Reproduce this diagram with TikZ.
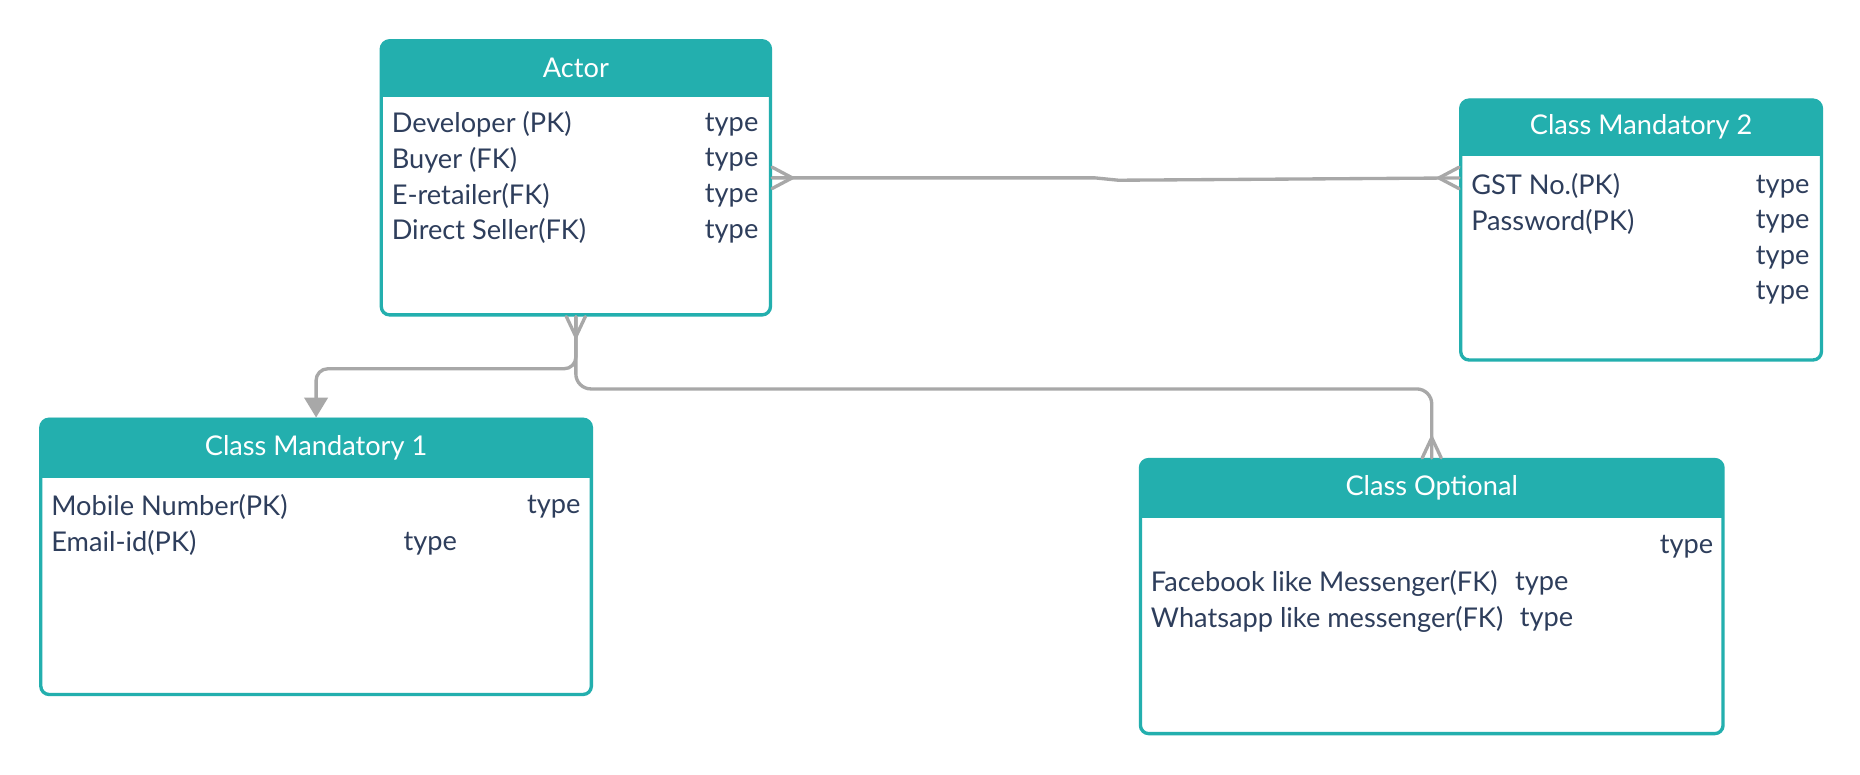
\documentclass[tikz,border=0pt]{standalone}
\usepackage{fontspec}
\setmainfont{Lato}
\usepackage{xcolor}
\definecolor{ErdTeal}{HTML}{23AFAE}
\definecolor{ErdText}{HTML}{2E3E5C}
\definecolor{LinkGray}{HTML}{A8A8A8}
\usetikzlibrary{arrows.meta, positioning, calc}

\begin{document}
\begin{tikzpicture}[
  x=0.025cm, y=-0.025cm,
  % === GRUNDSTILE ===
  % Tabellen-Box
  table/.style={
    draw=ErdTeal,
    fill=white,
    line width=2pt,
    rounded corners=5pt,
    anchor=north west,
    inner sep=0pt
  },
  % Kopfzeile
  header/.style={
    fill=ErdTeal,
    rounded corners=5pt,
    minimum height=1.2cm,
    anchor=north,
    inner sep=0pt
  },
  % Titel in der Kopfzeile
  title/.style={
    text=white,
    inner sep=0pt,
    font=\fontsize{16.3}{19}\selectfont
  },
  % Feldzeilen
  fld/.style={
    text=ErdText,
    anchor=west,
    inner sep=0pt,
    font=\fontsize{16.3}{19}\selectfont
  },
  % Verbindungen
  link/.style={
    draw=LinkGray,
    line width=2pt,
    line cap=round
  }
]

% =============================================================================
% HINTERGRUND
% =============================================================================
\useasboundingbox (0,0) rectangle (1568,652.5);
\fill[white] (0,0) rectangle (1568,652.5);

% =============================================================================
% TABELLEN
% =============================================================================

% --- Actor ---
\node[table, minimum width=8.2cm, minimum height=5.775cm] (actor) at (320,33) {};
\node[header, minimum width=8.2cm] (actorhd) at (actor.north) {};
\fill[ErdTeal] (actorhd.west) rectangle (actorhd.south east);
\node[title] (actorti) at (actorhd) {Actor};
\foreach \i/\txt in {1/Developer (PK), 2/Buyer (FK), 3/E-retailer(FK), 4/Direct Seller(FK)} {
  \node[fld] (actorf\i) at ($(actor.north west)+(10,42+30*\i)$) {\txt};
  \node[fld] (actort\i) at ($(actor.north west)+(274,42+30*\i)$) {type};
}

% --- Class Mandatory 2 ---
\node[table, minimum width=7.6cm, minimum height=5.475cm] (cmtwo) at (1230,83) {};
\node[header, minimum width=7.6cm] (cmtwohd) at (cmtwo.north) {};
\fill[ErdTeal] (cmtwohd.west) rectangle (cmtwohd.south east);
\node[title] (cmtwoti) at (cmtwohd) {Class Mandatory 2};
\node[fld] (cmtwof1) at ($(cmtwo.north west)+(10,74)$) {GST No.(PK)};
\node[fld] (cmtwof2) at ($(cmtwo.north west)+(10,104)$) {Password(PK)};
\foreach \i in {1,...,4} {
  \node[fld] (cmtwot\i) at ($(cmtwo.north west)+(250,44+30*\i)$) {type};
}

% --- Class Mandatory 1 ---
\node[table, minimum width=11.6cm, minimum height=5.8cm] (cmone) at (33,352) {};
\node[header, minimum width=11.6cm, minimum height=1.25cm] (cmonehd) at (cmone.north) {};
\fill[ErdTeal] (cmonehd.west) rectangle (cmonehd.south east);
\node[title] (cmoneti) at (cmonehd) {Class Mandatory 1};
\node[fld] (cmonef1) at ($(cmone.north west)+(10,75)$) {Mobile Number(PK)};
\node[fld] (cmonet1) at ($(cmone.north west)+(411,75)$) {type};
\node[fld] (cmonef2) at ($(cmone.north west)+(10,106)$) {Email-id(PK)};
\node[fld] (cmonet2) at ($(cmone.north west)+(307,106)$) {type};

% --- Class Optional ---
\node[table, minimum width=12.275cm, minimum height=5.775cm] (copt) at (960,386) {};
\node[header, minimum width=12.275cm, minimum height=1.25cm] (copthd) at (copt.north) {};
\fill[ErdTeal] (copthd.west) rectangle (copthd.south east);
\node[title] (coptti) at (copthd) {Class Optional};
\node[fld] (coptt0) at ($(copt.north west)+(439,75)$) {type};
\node[fld] (coptf1) at ($(copt.north west)+(10,106)$) {Facebook like Messenger(FK)};
\node[fld] (coptt1) at ($(copt.north west)+(317,106)$) {type};
\node[fld] (coptf2) at ($(copt.north west)+(10,136)$) {Whatsapp like messenger(FK)};
\node[fld] (coptt2) at ($(copt.north west)+(321,136)$) {type};

% =============================================================================
% VERBINDUNGEN
% =============================================================================
\coordinate (cmtwoin) at ($(cmtwo.north west)+(0,67)$);

% Actor -- Class Mandatory 2
\draw[link] (actor.east) -- ++(272,0) -- ++(20,2) -- (cmtwoin);
\draw[link] ($(actor.east)+(0,-9)$) -- ($(actor.east)+(17,0)$) -- ($(actor.east)+(0,9)$);
\draw[link] ($(cmtwoin)+(0,-9)$) -- ($(cmtwoin)+(-17,0)$) -- ($(cmtwoin)+(0,9)$);

% Actor -- Class Mandatory 1
\draw[link, rounded corners=7pt, -{Triangle[width=14pt, length=12pt]}]
      (actor.south) -- ++(0,44) -| (cmone.north);

% Actor -- Class Optional
\draw[link, rounded corners=9pt] (actor.south) -- ++(0,61) -| (copt.north);
\draw[link] ($(actor.south)+(-8,0)$) -- ($(actor.south)+(0,17)$) -- ($(actor.south)+(8,0)$);
\draw[link] ($(copt.north)+(-8,0)$) -- ($(copt.north)+(0,-17)$) -- ($(copt.north)+(8,0)$);

\end{tikzpicture}
\end{document}
